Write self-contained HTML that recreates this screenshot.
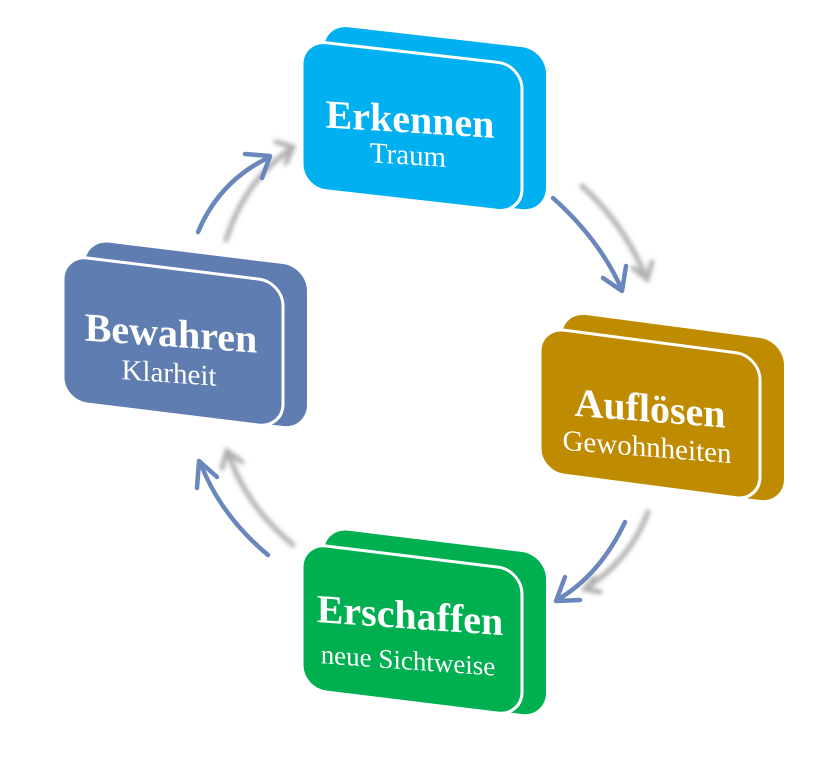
<!DOCTYPE html>
<html><head><meta charset="utf-8"><style>
html,body{margin:0;padding:0;background:#fff;}
svg{display:block;}
text{font-family:"Liberation Serif",serif;fill:#fff;text-anchor:middle;}
.t{font-weight:bold;font-size:40px;}
.s{font-size:29px;}
</style></head><body>
<svg width="817" height="757" viewBox="0 0 817 757" xmlns="http://www.w3.org/2000/svg">
<defs>
<filter id="bl" x="-50%" y="-50%" width="200%" height="200%"><feGaussianBlur stdDeviation="2.2"/></filter>
</defs>

<g fill="none" stroke="#b0b0b0" stroke-width="5" stroke-linecap="round" filter="url(#bl)">
<path d="M226,240 Q245,180 292,148"/><path d="M276,142 L293,147 L286,163"/>
<path d="M582,186 Q625,225 646,278"/><path d="M633,268 L647,279 L652,262"/>
<path d="M648,512 Q630,560 586,588"/><path d="M594,578 L585,589 L600,592"/>
<path d="M293,545 Q245,505 228,452"/><path d="M222,468 L227,451 L242,462"/>
</g>
<g fill="none" stroke="#6a87bb" stroke-width="4.5" stroke-linecap="round" stroke-linejoin="round">
<path d="M198,232 Q220,180 270,157"/><path d="M245,154 L270,156 L262,178"/>
<path d="M553,198 Q600,240 622,290"/><path d="M603,278 L622,291 L626,266"/>
<path d="M625,522 Q600,575 557,600"/><path d="M565,577 L556,601 L580,600"/>
<path d="M268,555 Q220,515 200,462"/><path d="M197,488 L199,461 L217,477"/>
</g>

<g transform="translate(302,40) skewY(6.5)">
<rect x="22" y="-18" width="222" height="162" rx="24" fill="#00b0f0"/>
<rect x="0" y="0" width="220" height="148" rx="24" fill="#00b0f0" stroke="#fff" stroke-width="3"/>
<g transform="skewY(-3)"><text class="t" x="108" y="86">Erkennen</text>
<text class="s" x="106" y="118">Traum</text></g>
</g>
<g transform="translate(540,327) skewY(7.5)">
<rect x="22" y="-18" width="222" height="162" rx="24" fill="#bf8b00"/>
<rect x="0" y="0" width="220" height="145" rx="24" fill="#bf8b00" stroke="#fff" stroke-width="3"/>
<g transform="skewY(-3)"><text class="t" x="110" y="86">Auflösen</text>
<text class="s" x="107" y="121">Gewohnheiten</text></g>
</g>
<g transform="translate(63,255) skewY(7)">
<rect x="22" y="-18" width="222" height="162" rx="24" fill="#5f7db0"/>
<rect x="0" y="0" width="220" height="146" rx="24" fill="#5f7db0" stroke="#fff" stroke-width="3"/>
<g transform="skewY(-3)"><text class="t" x="108" y="84">Bewahren</text>
<text class="s" x="106" y="120">Klarheit</text></g>
</g>
<g transform="translate(302,543) skewY(7)">
<rect x="22" y="-18" width="222" height="162" rx="24" fill="#00b050"/>
<rect x="0" y="0" width="220" height="146" rx="24" fill="#00b050" stroke="#fff" stroke-width="3"/>
<g transform="skewY(-3)"><text class="t" x="108" y="78">Erschaffen</text>
<text class="s" x="106" y="119" style="font-size:27px">neue Sichtweise</text></g>
</g>
</svg>
</body></html>
